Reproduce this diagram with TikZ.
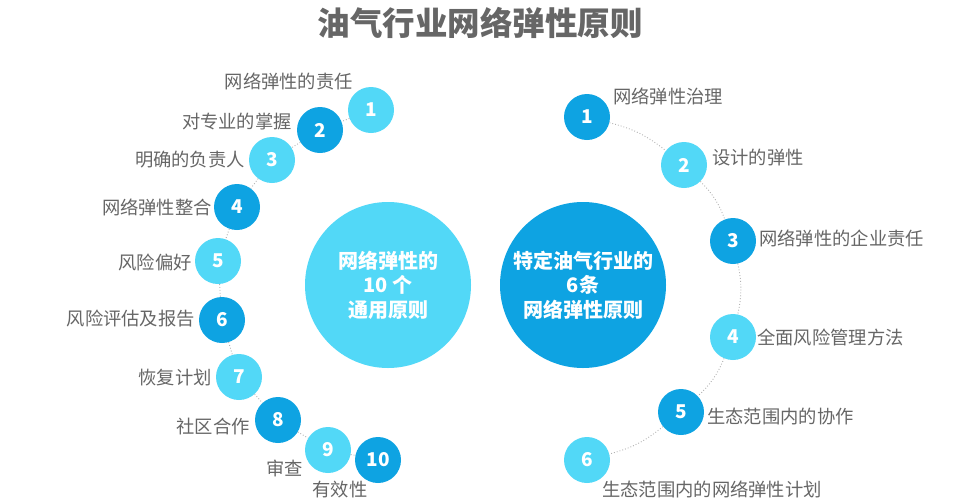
\documentclass[tikz,border=0pt]{standalone}
\usepackage{fontspec}
\setmainfont{Noto Sans CJK SC}
\usetikzlibrary{positioning}
\definecolor{lightc}{HTML}{52D8F7}
\definecolor{darkc}{HTML}{0EA3E2}
\definecolor{txtgray}{HTML}{666666}
\tikzset{
  num/.style={circle, minimum size=46pt, inner sep=0pt, text=white, font=\fontsize{19}{19}\selectfont\bfseries},
  lnum/.style={num, fill=lightc},
  dnum/.style={num, fill=darkc},
  big/.style={circle, minimum size=166pt, inner sep=0pt, text=white, align=center, font=\fontsize{20}{24.5}\selectfont\bfseries},
  lbl/.style={text=txtgray, inner sep=0pt, font=\fontsize{18.3}{18.3}\selectfont},
  link/.style={draw=gray!60, dotted, line width=0.9pt},
}
\begin{document}
\begin{tikzpicture}[x=1pt, y=-1pt]
\useasboundingbox (0,0) rectangle (974,501);
\node[text=txtgray, font=\fontsize{32.5}{32.5}\selectfont\bfseries] (title) at (480,23) {油气行业网络弹性原则};
% big circles
\node[big, fill=lightc] (bl) at (388,285) {网络弹性的\\10\ 个\\通用原则};
\node[big, fill=darkc] (br) at (583,285) {特定油气行业的\\6条\\网络弹性原则};
% left circles
\node[lnum] (l1) at (371,110) {1};
\node[dnum] (l2) at (320,130) {2};
\node[lnum] (l3) at (272,160) {3};
\node[dnum] (l4) at (237,207) {4};
\node[lnum] (l5) at (218,261) {5};
\node[dnum] (l6) at (222,320) {6};
\node[lnum] (l7) at (239,377) {7};
\node[dnum] (l8) at (278,420) {8};
\node[lnum] (l9) at (328,450) {9};
\node[dnum] (l10) at (378,460) {10};
\foreach \a/\b in {l1/l2,l2/l3,l3/l4,l4/l5,l5/l6,l6/l7,l7/l8,l8/l9,l9/l10}
  \draw[link] (\a) -- (\b);
% left labels
\node[lbl, anchor=east] (t1) at (353,81) {网络弹性的责任};
\node[lbl, anchor=east] (t2) at (292,122) {对专业的掌握};
\node[lbl, anchor=east] (t3) at (245,160) {明确的负责人};
\node[lbl, anchor=east] (t4) at (212,207) {网络弹性整合};
\node[lbl, anchor=east] (t5) at (192,262) {风险偏好};
\node[lbl, anchor=east] (t6) at (195,319) {风险评估及报告};
\node[lbl, anchor=east] (t7) at (212,378) {恢复计划};
\node[lbl, anchor=east] (t8) at (250,427) {社区合作};
\node[lbl, anchor=east] (t9) at (303,468) {审查};
\node[lbl] (t10) at (340,490) {有效性};
% right circles
\node[dnum] (r1) at (587,117) {1};
\node[lnum] (r2) at (684,165) {2};
\node[dnum] (r3) at (733,241) {3};
\node[lnum] (r4) at (733,337) {4};
\node[dnum] (r5) at (681,412) {5};
\node[lnum] (r6) at (587,460) {6};
\foreach \a/\b in {r1/r2,r2/r3,r3/r4,r4/r5,r5/r6}
  \draw[link] (\a) to[bend left=12] (\b);
% right labels
\node[lbl, anchor=west] (s1) at (613,96) {网络弹性治理};
\node[lbl, anchor=west] (s2) at (712,158) {设计的弹性};
\node[lbl, anchor=west] (s3) at (759,238) {网络弹性的企业责任};
\node[lbl, anchor=west] (s4) at (757,337) {全面风险管理方法};
\node[lbl, anchor=west] (s5) at (707,417) {生态范围内的协作};
\node[lbl, anchor=west] (s6) at (602,489) {生态范围内的网络弹性计划};
\end{tikzpicture}
\end{document}
